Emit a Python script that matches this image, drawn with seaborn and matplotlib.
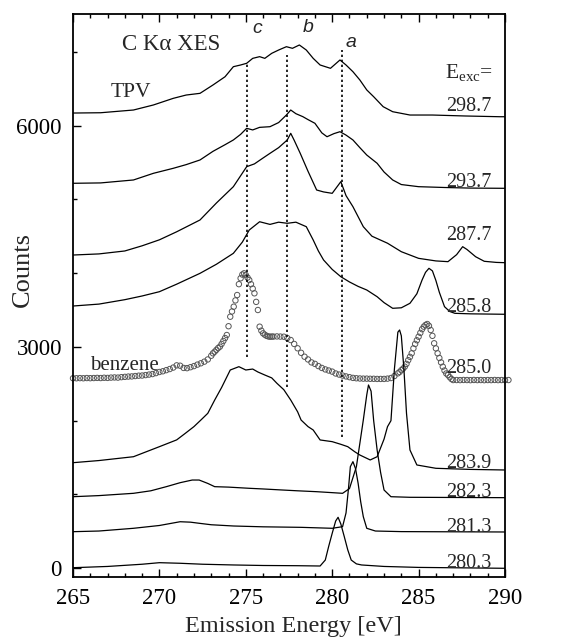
import numpy as np
import matplotlib
matplotlib.use("Agg")
import matplotlib.pyplot as plt
import seaborn as sns
from matplotlib.ticker import MultipleLocator

# C K-alpha emission spectra of TPV, one per excitation energy
e_2987 = [265.0, 266.6, 268.5, 269.65, 270.8, 271.55, 272.35, 273.1, 273.8, 274.28, 274.7, 275.05,
          275.4, 275.8, 276.1, 276.5, 276.9, 277.35, 277.7, 278.1, 278.5, 278.9, 279.3, 279.9,
          280.45, 280.8, 281.2, 281.6, 282.0, 282.4, 282.95, 283.5, 284.5, 285.8, 287.7, 289.7, 290.0]
c_2987 = [6169, 6173, 6210, 6278, 6368, 6413, 6436, 6549, 6661, 6797, 6820, 6843,
          6910, 6933, 6910, 6978, 7023, 7068, 7046, 7091, 7023, 6910, 6820, 6775,
          6888, 6820, 6729, 6617, 6482, 6390, 6255, 6187, 6142, 6142, 6129, 6119, 6119]

e_2937 = [265.0, 266.6, 268.5, 269.65, 270.8, 271.55, 272.35, 273.1, 273.8, 274.28, 274.7, 275.05,
          275.4, 275.8, 276.4, 276.9, 277.35, 277.6, 277.9, 278.3, 278.6, 279.0, 279.4, 279.7,
          280.1, 280.45, 280.8, 281.2, 281.6, 282.0, 282.6, 283.0, 283.5, 284.0, 285.0, 286.5,
          288.0, 290.0]
c_2937 = [5217, 5222, 5262, 5352, 5420, 5470, 5533, 5650, 5740, 5804, 5880, 5962,
          5940, 5975, 5984, 6040, 6142, 6210, 6160, 6120, 6080, 6030, 5900, 5848,
          5890, 5916, 5870, 5804, 5700, 5600, 5488, 5370, 5262, 5200, 5171, 5160,
          5152, 5149]

e_2877 = [265.0, 266.5, 268.0, 269.0, 270.0, 271.0, 272.35, 273.3, 274.28, 275.05, 275.5, 276.0,
          276.4, 276.9, 277.4, 277.6, 277.8, 278.15, 278.6, 279.1, 279.5, 280.0, 280.5, 280.8,
          281.2, 281.8, 282.3, 283.2, 284.0, 285.0, 286.0, 286.7, 287.2, 287.55, 287.8, 288.3,
          288.8, 289.5, 290.0]
c_2877 = [4245, 4260, 4300, 4370, 4451, 4560, 4720, 4950, 5171, 5442, 5480, 5560,
          5623, 5700, 5804, 5894, 5800, 5623, 5380, 5126, 5100, 5081, 5239, 5050,
          4900, 4629, 4500, 4405, 4290, 4200, 4165, 4155, 4250, 4358, 4320, 4222,
          4160, 4145, 4141]

e_2858 = [265.0, 266.5, 268.0, 269.0, 270.0, 271.0, 272.35, 273.3, 274.28, 274.8, 275.2, 275.8,
          276.4, 276.9, 277.4, 277.9, 278.5, 278.9, 279.2, 279.5, 280.0, 280.5, 281.0, 281.5,
          282.0, 282.6, 283.0, 283.5, 284.0, 284.5, 284.9, 285.2, 285.4, 285.6, 285.8, 286.0,
          286.2, 286.5, 286.8, 287.1, 288.0, 290.0]
c_2858 = [3554, 3580, 3640, 3690, 3748, 3850, 3997, 4120, 4268, 4420, 4584, 4696,
          4660, 4690, 4675, 4690, 4629, 4449, 4300, 4178, 4050, 3951, 3880, 3820,
          3771, 3680, 3600, 3523, 3530, 3591, 3720, 3906, 4010, 4065, 4030, 3900,
          3740, 3545, 3480, 3455, 3448, 3442]

e_2839 = [265.0, 266.5, 268.5, 270.0, 271.0, 271.5, 272.0, 272.4, 272.8, 273.2, 273.6, 274.1,
          274.6, 275.0, 275.4, 275.7, 276.1, 276.5, 276.8, 277.2, 277.6, 278.0, 278.2, 278.6,
          278.9, 279.3, 280.0, 280.5, 280.9, 281.3, 281.6, 282.2, 282.6, 283.0, 283.2, 283.4,
          283.6, 283.8, 283.9, 284.0, 284.15, 284.3, 284.5, 284.9, 286.0, 288.0, 290.0]
c_2839 = [1431, 1460, 1512, 1648, 1740, 1829, 1920, 2009, 2100, 2280, 2450, 2687,
          2732, 2687, 2700, 2660, 2619, 2580, 2507, 2420, 2280, 2120, 2009, 1920,
          1874, 1739, 1716, 1680, 1648, 1580, 1535, 1468, 1512, 1750, 1919, 2000,
          2700, 3200, 3229, 3150, 2700, 2100, 1603, 1400, 1355, 1340, 1332]

e_2823 = [265.0, 266.5, 268.5, 269.5, 270.4, 271.2, 271.9, 272.3, 272.8, 273.2, 274.0, 275.2,
          276.0, 277.1, 278.0, 279.1, 280.0, 280.6, 281.0, 281.4, 281.8, 282.0, 282.1, 282.25,
          282.4, 282.6, 282.8, 283.0, 283.4, 284.5, 290.0]
c_2823 = [970, 985, 1016, 1050, 1106, 1160, 1196, 1196, 1150, 1106, 1100, 1084,
          1075, 1061, 1050, 1038, 1025, 1016, 1080, 1377, 2009, 2350, 2484, 2400,
          2000, 1603, 1300, 1061, 970, 962, 957]

e_2813 = [265.0, 266.5, 268.5, 270.0, 271.2, 271.8, 272.3, 273.0, 274.3, 276.0, 278.2, 280.0,
          280.6, 280.8, 280.95, 281.05, 281.2, 281.35, 281.5, 281.65, 281.8, 282.0, 282.5, 284.0,
          290.0]
c_2813 = [496, 505, 542, 580, 631, 625, 610, 590, 573, 562, 555, 542,
          564, 750, 1100, 1377, 1445, 1350, 1152, 900, 699, 542, 505, 497,
          492]

e_2803 = [265.0, 267.0, 269.0, 270.0, 271.2, 272.5, 274.3, 276.0, 278.0, 279.3, 279.6, 279.8,
          280.0, 280.2, 280.34, 280.5, 280.7, 280.9, 281.1, 281.4, 281.7, 283.0, 285.0, 290.0]
c_2803 = [8, 25, 55, 76, 68, 55, 45, 38, 35, 31, 112, 300,
          474, 640, 691, 600, 428, 250, 112, 60, 45, 25, 12, 0]

# gas-phase benzene reference (open circles)
benz_y = [2575, 2575, 2577, 2575, 2578, 2576, 2578, 2580, 2578, 2582, 2580, 2584, 2586, 2584,
          2590, 2594, 2598, 2600, 2605, 2610, 2612, 2618, 2625, 2632, 2645, 2660, 2670, 2685,
          2700, 2720, 2750, 2745, 2715, 2712, 2725, 2740, 2760, 2778, 2800, 2830,
          2880, 2913, 2935, 2960, 2985, 3003, 3040, 3080, 3120, 3161, 3280, 3409, 3480, 3545,
          3630, 3703, 3850, 3930, 3980, 3997, 3974, 3940, 3906, 3850, 3790, 3726, 3610, 3500,
          3274, 3220, 3184, 3165, 3150, 3142, 3138, 3140,
          3140, 3142, 3140, 3138, 3120, 3093, 3040, 2981, 2920, 2867, 2830, 2790, 2770, 2740,
          2715, 2695, 2680, 2665, 2640, 2625, 2612, 2600, 2590, 2580, 2575, 2572, 2570, 2570,
          2568, 2568, 2566, 2566, 2566, 2570, 2578, 2605,
          2642, 2660, 2685, 2705, 2732, 2770, 2820, 2865, 2913, 2980, 3040, 3090, 3138, 3190,
          3240, 3274, 3297, 3310, 3285, 3229, 3150, 3049, 2980, 2913, 2850, 2790, 2732, 2680,
          2640, 2619, 2590, 2565, 2551,
          2551, 2550, 2552, 2551, 2549, 2552, 2550, 2551, 2549, 2551, 2550, 2552, 2550, 2551,
          2549, 2551]
benz_x = np.concatenate([
    np.linspace(265.0, 272.8, 40),
    np.linspace(273.0, 276.5, 36),
    np.linspace(276.6, 283.6, 36),
    np.linspace(283.8, 287.0, 33),
    np.linspace(287.2, 290.2, 16),
])

spectra = [
    ("298.7", e_2987, c_2987),
    ("293.7", e_2937, c_2937),
    ("287.7", e_2877, c_2877),
    ("285.8", e_2858, c_2858),
    ("283.9", e_2839, c_2839),
    ("282.3", e_2823, c_2823),
    ("281.3", e_2813, c_2813),
    ("280.3", e_2803, c_2803),
]
# where each excitation-energy label sits (counts, baseline of text)
label_y = {"298.7": 6190, "293.7": 5165, "287.7": 4448, "285.8": 3477, "285.0": 2646,
           "283.9": 1359, "282.3": 966, "281.3": 492, "280.3": 4}

# features a, b, c marked by dotted lines
feat_names = ["c", "b", "a"]
feat_pos = [275.05, 277.4, 280.55]
feat_top = [6865, 6955, 7023]
feat_bottom = [2867, 2460, 1783]
feat_label_x = [275.4, 278.3, 280.75]
feat_label_y = [7249, 7271, 7068]

sns.set_style("ticks")
plt.rcParams["font.family"] = ["Liberation Serif", "DejaVu Serif"]
plt.rcParams["mathtext.fontset"] = "custom"
plt.rcParams["mathtext.rm"] = "Liberation Serif"

fig = plt.figure(figsize=(5.66, 6.41), dpi=100)
ax = fig.add_axes([73 / 566, 1 - 577 / 641, 432 / 566, 563 / 641])

sns.scatterplot(x=benz_x, y=benz_y, ax=ax, marker="o", s=15, facecolor="none",
                edgecolor="#555555", linewidth=0.7, clip_on=False, zorder=2)

for name, e, c in spectra:
    sns.lineplot(x=e, y=c, ax=ax, color="black", lw=0.9, sort=False, estimator=None, zorder=3)

for pos, top, bot in zip(feat_pos, feat_top, feat_bottom):
    ax.plot([pos, pos], [bot, top], color="black", lw=1.2, ls=(0, (1.4, 1.6)), zorder=4)
for name, lx, ly in zip(feat_names, feat_label_x, feat_label_y):
    ax.text(lx, ly, name, fontsize=14, style="italic",
            family=["Liberation Sans", "DejaVu Sans"], ha="left", va="baseline")

for name, ly in label_y.items():
    ax.text(289.2, ly, name, fontsize=14.5, ha="right", va="baseline")

ax.text(267.85, 7023, "C K\u03b1 XES", fontsize=16.5, ha="left", va="baseline")
ax.text(267.16, 6384, "TPV", fontsize=15.5, ha="left", va="baseline")
ax.text(266.0, 2688, "benzene", fontsize=15, ha="left", va="baseline")
ax.text(289.3, 6644, r"E$_{\mathrm{exc}}$=", fontsize=15.5, ha="right", va="baseline")

ax.set_xlim(265, 290)
ax.set_ylim(-118, 7511)
ax.xaxis.set_major_locator(MultipleLocator(5))
ax.xaxis.set_minor_locator(MultipleLocator(1))
ax.yaxis.set_major_locator(MultipleLocator(3000))
ax.yaxis.set_minor_locator(MultipleLocator(1000))
ax.tick_params(which="both", direction="in", top=True, right=False, width=1.0, colors="black")
ax.tick_params(which="major", length=6, labelsize=16.5, pad=8)
ax.tick_params(which="minor", length=3)
for s in ax.spines.values():
    s.set_linewidth(1.3)
    s.set_color("black")

ax.set_xlabel("Emission Energy [eV]", fontsize=17.5)
ax.set_ylabel("Counts", fontsize=19)
ax.xaxis.set_label_coords(0.51, -0.07)
ax.yaxis.set_label_coords(-0.09, 0.547)

fig.savefig("out.png", dpi=100)
